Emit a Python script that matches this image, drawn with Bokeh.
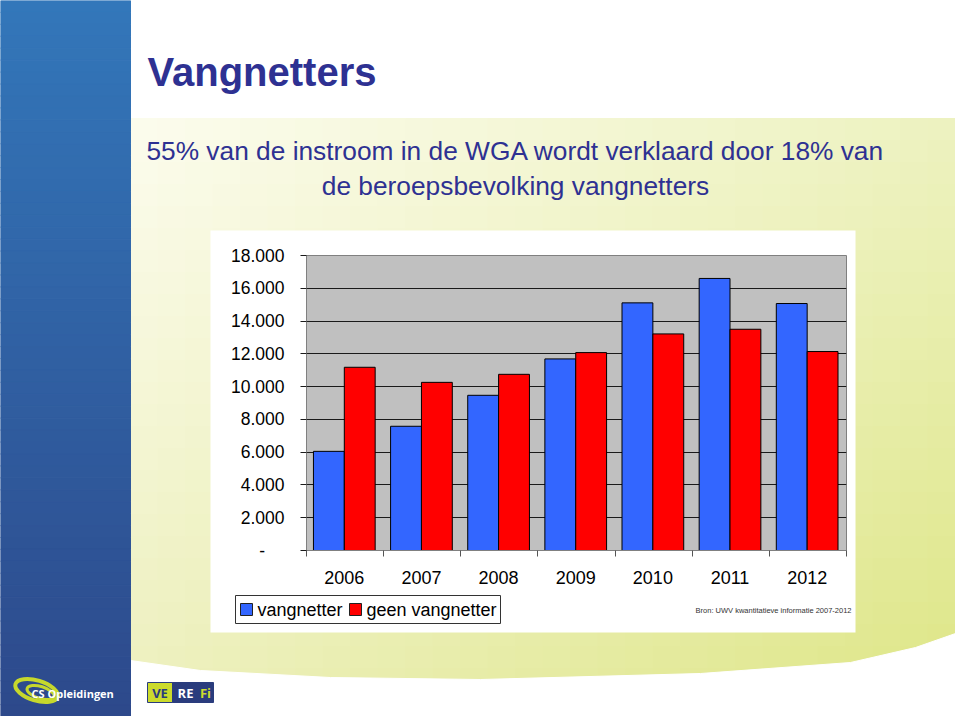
import numpy as np
from bokeh.plotting import figure
from bokeh.models import Range1d, FixedTicker, ColumnDataSource
from bokeh.core.properties import value
from bokeh.embed import file_html
from bokeh.resources import INLINE

# ---------------- data ----------------
years = ["2006", "2007", "2008", "2009", "2010", "2011", "2012"]
vangnetter = [6050, 7580, 9470, 11690, 15110, 16600, 15070]
geen_vangnetter = [11180, 10260, 10750, 12075, 13215, 13500, 12140]
series_names = ["vangnetter", "geen vangnetter"]
series_colors = ["#3366ff", "#ff0000"]
y_ticks = [0, 2000, 4000, 6000, 8000, 10000, 12000, 14000, 16000, 18000]
y_tick_labels = ["-\u00a0\u00a0\u00a0\u00a0", "2.000", "4.000", "6.000", "8.000",
                 "10.000", "12.000", "14.000", "16.000", "18.000"]
title_text = "Vangnetters"
subtitle_lines = ["55% van de instroom in de WGA wordt verklaard door 18% van",
                  "de beroepsbevolking vangnetters"]
source_text = "Bron: UWV kwantitatieve informatie 2007-2012"
logo_cs = "CS Opleidingen"
logo_verefi = ["VE", "RE", "Fi"]

FONT = "Liberation Sans"
TEXT_BLUE = "#2e3192"


def hexc(c):
    return "#%02x%02x%02x" % tuple(int(round(v)) for v in c)


def lerp(a, b, t):
    return tuple(x + (y - x) * t for x, y in zip(a, b))


# ---------------- slide background ----------------
bg = figure(width=960, height=716, x_range=Range1d(0, 960), y_range=Range1d(716, 0),
            toolbar_location=None, output_backend="svg", min_border=0,
            x_axis_location=None, y_axis_location=None, title=None)
bg.grid.visible = False
bg.outline_line_color = None
bg.background_fill_color = "white"
bg.border_fill_color = "white"

# yellow-green gradient band
TL, TR = (252, 252, 238), (237, 242, 192)
BL, BR = (237, 240, 190), (222, 230, 135)
nx, ny = 30, 26
xe = np.linspace(130, 955, nx + 1)
ye = np.linspace(118, 690, ny + 1)
L, R, T, B, C = [], [], [], [], []
for i in range(nx):
    for j in range(ny):
        tx = (i + 0.5) / nx
        ty = (j + 0.5) / ny
        c = lerp(lerp(TL, TR, tx), lerp(BL, BR, tx), ty)
        L.append(xe[i]); R.append(xe[i + 1]); T.append(ye[j]); B.append(ye[j + 1]); C.append(hexc(c))
bg.quad(left=L, right=R, top=T, bottom=B, fill_color=C, line_color=C, line_width=1)

# white area below the curved lower edge of the band
curve_x = [125, 130, 200, 330, 480, 700, 850, 915, 955, 962, 962, 125]
curve_y = [640, 660, 670, 677, 679, 673, 662, 647, 633, 600, 716, 716]
bg.patch(curve_x, curve_y, fill_color="white", line_color="white")
bg.quad(left=[955], right=[962], top=[110], bottom=[716], fill_color="white", line_color="white")

# left blue bar with vertical gradient
nb = 60
be = np.linspace(0, 716, nb + 1)
bc = [hexc(lerp((51, 119, 186), (45, 73, 139), (k + 0.5) / nb)) for k in range(nb)]
bg.quad(left=[0] * nb, right=[130] * nb, top=be[:-1], bottom=be[1:], fill_color=bc, line_color=bc)

# title and subtitle
bg.text(x=[147], y=[71], text=[title_text], text_font=value(FONT), text_font_style="bold",
        text_font_size="40px", text_color=TEXT_BLUE, text_baseline="alphabetic")
bg.text(x=[515, 515], y=[150, 185], text=subtitle_lines, text_font=value(FONT),
        text_font_size="26.3px", text_color=TEXT_BLUE, text_baseline="alphabetic",
        text_align="center")

# white chart box and source note
bg.quad(left=[210], right=[855], top=[230], bottom=[632], fill_color="white", line_color=None)
bg.text(x=[851], y=[609.5], text=[source_text], text_font=value(FONT), text_font_size="7.5px",
        text_color="#333333", text_align="right", text_baseline="middle")

# legend box (below the chart)
bg.quad(left=[235], right=[500], top=[595], bottom=[623], fill_color="white",
        line_color="#333333", line_width=1)
bg.quad(left=[240, 349], right=[252, 361], top=[603, 603], bottom=[615, 615],
        fill_color=series_colors, line_color="#222222", line_width=1)
bg.text(x=[257, 366], y=[609.5, 609.5], text=series_names, text_font=value(FONT),
        text_font_size="18px", text_color="black", text_baseline="middle")

# logos
bg.ellipse(x=[36], y=[690], width=[44], height=[20], angle=[-0.3], fill_color=None,
           line_color="#c6d82c", line_width=4)
bg.ellipse(x=[40], y=[692], width=[28], height=[12], angle=[-0.3], fill_color=None,
           line_color="#c6d82c", line_width=3)
bg.text(x=[31], y=[693], text=[logo_cs], text_font=value("Open Sans"), text_font_style="bold",
        text_font_size="11px", text_color="white", text_baseline="middle")
bg.quad(left=[147], right=[172], top=[682], bottom=[702], fill_color="#cbdb2c", line_color="#2a3c7d")
bg.quad(left=[172], right=[213], top=[682], bottom=[702], fill_color="#2a3c7d", line_color="#2a3c7d")
bg.text(x=[159.5, 185, 205], y=[692, 692, 692], text=logo_verefi, text_font=value("Open Sans"),
        text_font_style="bold", text_font_size="13px",
        text_color=["#2a3c7d", "white", "#cbdb2c"], text_baseline="middle", text_align="center")

# ---------------- chart ----------------
idx = np.arange(len(years))
src = ColumnDataSource(dict(xb=idx - 0.2, xr=idx + 0.2, v=vangnetter, g=geen_vangnetter, year=years))

p = figure(width=645, height=402, x_range=Range1d(-0.49, 6.51), y_range=Range1d(0, 18000),
           toolbar_location=None, output_backend="svg", title=None,
           min_border_left=96, min_border_right=9, min_border_top=25, min_border_bottom=82)
p.background_fill_color = "#c0c0c0"
p.border_fill_color = None
p.outline_line_color = "#808080"

rb = p.vbar(x="xb", top="v", width=0.4, source=src, fill_color=series_colors[0],
            line_color="black", line_width=1)
rr = p.vbar(x="xr", top="g", width=0.4, source=src, fill_color=series_colors[1],
            line_color="black", line_width=1)

p.xgrid.visible = False
p.ygrid.ticker = FixedTicker(ticks=y_ticks)
p.ygrid.grid_line_color = "#1a1a1a"
p.ygrid.grid_line_width = 1

ya = p.yaxis[0]
ya.ticker = FixedTicker(ticks=y_ticks, minor_ticks=[])
ya.major_label_overrides = {t: lab for t, lab in zip(y_ticks, y_tick_labels)}
ya.major_tick_out = 6
ya.major_tick_in = 0
ya.minor_tick_out = 0
ya.minor_tick_in = 0
ya.axis_line_color = "#808080"
ya.major_tick_line_color = "#1a1a1a"
ya.major_label_standoff = 16
ya.major_label_text_font = FONT
ya.major_label_text_font_size = "17.5px"
ya.major_label_text_color = "black"

xa = p.xaxis[0]
xa.ticker = FixedTicker(ticks=list(range(len(years))),
                        minor_ticks=[i - 0.49 for i in range(len(years) + 1)])
xa.major_label_overrides = {i: y for i, y in enumerate(years)}
xa.major_tick_out = 0
xa.major_tick_in = 0
xa.minor_tick_out = 6
xa.minor_tick_in = 0
xa.minor_tick_line_color = "#555555"
xa.axis_line_color = "#808080"
xa.major_label_standoff = 14
xa.major_label_text_font = FONT
xa.major_label_text_font_size = "18px"
xa.major_label_text_color = "black"

# place the chart over the slide at its position
p.styles = {"position": "absolute", "left": "210px", "top": "230px",
            "width": "645px", "height": "402px"}

open("out.html", "w").write(file_html([bg, p], INLINE))
